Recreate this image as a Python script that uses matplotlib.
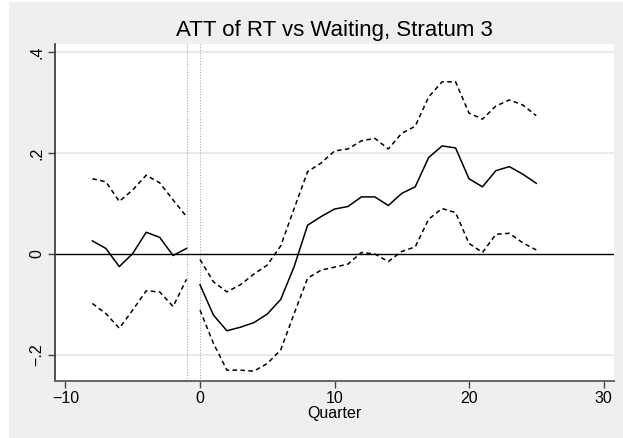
import numpy as np
import matplotlib
matplotlib.use("Agg")
import matplotlib.pyplot as plt
from matplotlib.patches import Rectangle

plt.rcParams['font.family'] = ['Liberation Sans', 'DejaVu Sans']

# quarters relative to treatment
q_pre = [-8, -7, -6, -5, -4, -3, -2, -1]
q_post = list(range(0, 26))

att_pre = [0.026, 0.011, -0.025, 0.001, 0.043, 0.033, -0.003, 0.011]
hi_pre = [0.149, 0.143, 0.104, 0.127, 0.156, 0.141, 0.107, 0.074]
lo_pre = [-0.098, -0.118, -0.147, -0.111, -0.073, -0.075, -0.104, -0.050]

att_post = [-0.061, -0.121, -0.152, -0.145, -0.136, -0.119, -0.090, -0.025,
            0.057, 0.074, 0.089, 0.094, 0.113, 0.113, 0.096, 0.120, 0.133,
            0.191, 0.214, 0.210, 0.149, 0.133, 0.165, 0.173, 0.158, 0.140]
hi_post = [-0.011, -0.055, -0.075, -0.061, -0.040, -0.022, 0.016, 0.090,
           0.163, 0.180, 0.204, 0.208, 0.224, 0.229, 0.208, 0.239, 0.253,
           0.311, 0.341, 0.341, 0.279, 0.267, 0.293, 0.305, 0.295, 0.274]
lo_post = [-0.111, -0.177, -0.230, -0.230, -0.232, -0.217, -0.190, -0.118,
           -0.048, -0.032, -0.026, -0.020, 0.003, 0.000, -0.015, 0.005, 0.014,
           0.069, 0.090, 0.082, 0.021, 0.003, 0.039, 0.041, 0.022, 0.008]

xticks = [-10, 0, 10, 20, 30]
xlabels = ['\u221210', '0', '10', '20', '30']
yticks = [-0.2, 0, 0.2, 0.4]
ylabels = ['\u2212.2', '0', '.2', '.4']

bg = '#efefef'
fig = plt.figure(figsize=(6.23, 4.38), dpi=100, facecolor='white')
fig.patches.append(Rectangle((9 / 623, 0), 1, 436 / 438, transform=fig.transFigure,
                             facecolor=bg, edgecolor='none', zorder=-10))
ax = fig.add_axes([55 / 623, 1 - 381 / 438, (614 - 55) / 623, (381 - 44) / 438])
ax.set_facecolor('white')

for y in [-0.2, 0.2, 0.4]:
    ax.axhline(y, color='#e6e6e6', lw=1.2, zorder=0)
ax.axhline(0, color='black', lw=1.0, zorder=1)
for xv in [-1, 0]:
    ax.axvline(xv, color='#aaaaaa', lw=0.8, ls=(0, (1, 1.5)), zorder=1)

dash = (0, (3, 2.2))
ax.plot(q_pre, att_pre, color='black', lw=1.1)
ax.plot(q_pre, hi_pre, color='black', lw=1.1, ls=dash)
ax.plot(q_pre, lo_pre, color='black', lw=1.1, ls=dash)
ax.plot(q_post, att_post, color='black', lw=1.1)
ax.plot(q_post, hi_post, color='black', lw=1.1, ls=dash)
ax.plot(q_post, lo_post, color='black', lw=1.1, ls=dash)

ax.set_xlim(-10.78, 30.78)
ax.set_ylim(-0.2515, 0.4158)
ax.set_xticks(xticks)
ax.set_xticklabels(xlabels)
ax.set_yticks(yticks)
ax.set_yticklabels(ylabels, rotation=90, va='center')
ax.tick_params(axis='both', length=5, width=1, color='#444444', labelsize=11.5, pad=2.5)

for s in ['top', 'right']:
    ax.spines[s].set_visible(False)
ax.spines['left'].set_color('#333333')
ax.spines['bottom'].set_color('#666666')
ax.spines['left'].set_linewidth(1.2)
ax.spines['bottom'].set_linewidth(1.4)

ax.set_xlabel('Quarter', fontsize=11.5, labelpad=0)
ax.set_title('ATT of RT vs Waiting, Stratum 3', fontsize=16, pad=6)

fig.savefig('out.png', dpi=100, facecolor=fig.get_facecolor())
